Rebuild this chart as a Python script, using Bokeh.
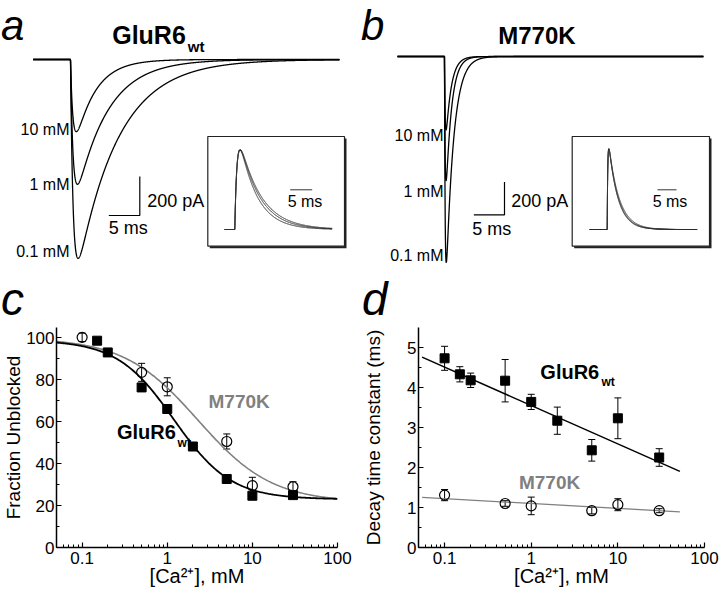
import numpy as np
from bokeh.plotting import figure
from bokeh.models import (Range1d, Label, FixedTicker, Whisker, TeeHead,
                          ColumnDataSource, CustomJSTickFormatter)
from bokeh.layouts import column, row
from bokeh.embed import file_html
from bokeh.resources import INLINE

# ------------------------------------------------------------------ data
conc_labels = ["10 mM", "1 mM", "0.1 mM"]
# panel a (GluR6wt) currents: peak amplitude (pA) and decay time constant (ms)
a_peak_pA = [370, 640, 1020]
a_tau_ms = [3.2, 5.0, 6.5]
a_inset_tau_ms = [3.9, 4.4, 4.8]
a_rise_ms = 0.45
# panel b (M770K)
b_peak_pA = [450, 760, 1260]
b_tau_ms = [0.85, 0.9, 1.2]
b_inset_tau_ms = [2.4, 2.5, 2.7]
b_rise_ms = 0.12
scale_ms = 5
scale_pA = 200

# panel c: fraction unblocked (%)
ca_glu = [0.15, 0.2, 0.5, 1, 2, 5, 10, 30]
frac_glu = [98.7, 93.1, 76.4, 66.1, 48.2, 32.7, 24.7, 25.0]
ca_m770 = [0.1, 0.5, 1, 5, 10, 30]
frac_m770 = [100.3, 83.6, 76.7, 50.6, 29.5, 29.0]
frac_m770_err = [2.0, 4.3, 4.3, 3.6, 4.0, 2.4]
hill_glu = [99, 23, 1.2, 1.3]       # top, bottom, IC50 (mM), n
hill_m770 = [100, 21.5, 2.3, 1.0]

# panel d: decay time constant (ms)
ca_tau_glu = [0.1, 0.15, 0.2, 0.5, 1, 2, 5, 10, 30]
tau_glu = [4.73, 4.33, 4.18, 4.17, 3.64, 3.17, 2.43, 3.23, 2.25]
tau_glu_err = [0.30, 0.19, 0.18, 0.53, 0.19, 0.34, 0.27, 0.51, 0.22]
ca_tau_m770 = [0.1, 0.5, 1, 5, 10, 30]
tau_m770 = [1.31, 1.10, 1.04, 0.92, 1.07, 0.92]
tau_m770_err = [0.14, 0.07, 0.22, 0.08, 0.15, 0.05]
lin_glu = [3.55, -0.96]     # tau = a + b*log10(Ca)
lin_m770 = [1.10, -0.122]
fit_span = [0.055, 52]

# ------------------------------------------------------------------ layout helpers
SPLIT = 325
H1 = SPLIT
H2 = 594 - SPLIT
FONT = "Liberation Sans"
GRAY = "#808080"
LETTER = 42


def trace(t, tr, td):
    tc = np.clip(t, 0, None)
    g = np.where(t > 0, (1 - np.exp(-tc / tr)) * np.exp(-tc / td), 0.0)
    return g / g.max()


def label(p, x, y, text, size, align="left", style="normal",
          color="black", angle=0.0, xr="default", yr="default"):
    p.add_layout(Label(x=x, y=y, text=text, text_font=FONT, text_font_size=f"{size}px",
                       text_font_style=style, text_align=align, text_baseline="middle",
                       text_color=color, angle=angle, x_range_name=xr, y_range_name=yr))


def blank_fig(xr, yr, h):
    p = figure(width=360, height=h, x_range=xr, y_range=yr, toolbar_location=None,
               output_backend="svg", x_axis_location=None, y_axis_location=None,
               min_border=0, outline_line_color=None)
    p.grid.visible = False
    return p


def trace_panel(letter, title, xo, onset, base, px_ms, px_pA, peaks, taus, rise,
                lab_right, lab_y, bar_corner, t_start, t_end, txt200, txt5,
                inset, lower_letter):
    fx = lambda r: (r - onset) / px_ms
    fy = lambda r: -(r - base) / px_pA
    p = blank_fig(Range1d(fx(xo), fx(xo + 360)), Range1d(fy(SPLIT), fy(0)), H1)
    t = np.arange(fx(t_start), fx(t_end), 0.02)
    for amp, td in zip(peaks, taus):
        p.line(t, -amp * trace(t, rise, td), line_color="black", line_width=1.3)
    for txt, yy in zip(conc_labels, lab_y):
        label(p, fx(lab_right), fy(yy), txt, 16, align="right")
    cx, cy = fx(bar_corner[0]), fy(bar_corner[1])
    p.line([cx - scale_ms, cx, cx], [cy, cy, cy + scale_pA], line_color="black", line_width=1.2)
    label(p, fx(txt200[0]), fy(txt200[1]), f"{scale_pA} pA", 18)
    label(p, fx(txt5[0]), fy(txt5[1]), f"{scale_ms} ms", 18)
    label(p, fx(xo + 0.5), fy(24.5), letter, LETTER, style="italic")
    label(p, fx(lower_letter[0]), fy(lower_letter[1] - 0.35 * 46), lower_letter[2], 46,
          style="italic")
    label(p, fx(title[0]), fy(title[1] - 0.35 * title[3]), title[2], title[3], style="bold")
    if title[4]:
        label(p, fx(title[0] + title[3] * 2.945 + 2), fy(title[1] + 8.4 - 0.35 * 15), "wt", 15,
              style="bold")

    # inset (own ms / normalised scales)
    ion, ipx, ibase, ipeak = inset["onset"], inset["px_ms"], inset["base"], inset["peak"]
    ix = lambda r: (r - ion) / ipx
    iy = lambda r: (ibase - r) / (ibase - ipeak)
    p.extra_x_ranges = {"ix": Range1d(ix(xo), ix(xo + 360))}
    p.extra_y_ranges = {"iy": Range1d(iy(SPLIT), iy(0))}
    L, T, R, B = inset["box"]
    p.quad(left=ix(L + 2), right=ix(R + 2), top=iy(T + 2), bottom=iy(B + 2),
           fill_color="#222222", line_color=None, x_range_name="ix", y_range_name="iy")
    p.quad(left=ix(L), right=ix(R), top=iy(T), bottom=iy(B), fill_color="white",
           line_color="#222222", line_width=1.2, x_range_name="ix", y_range_name="iy")
    ti = np.arange(ix(inset["start"]), ix(inset["end"]), 0.01)
    for td in inset["taus"]:
        p.line(ti, trace(ti, inset["rise"], td), line_color="#333333", line_width=1.0,
               x_range_name="ix", y_range_name="iy")
    bx_r, by_ = inset["bar"]
    p.line([ix(bx_r) - scale_ms, ix(bx_r)], [iy(by_), iy(by_)], line_color="#333333",
           line_width=1.0, x_range_name="ix", y_range_name="iy")
    label(p, ix(inset["txt"][0]), iy(inset["txt"][1]), f"{scale_ms} ms", 16, align="center",
          xr="ix", yr="iy")
    return p


pa = trace_panel("a", (111.7, 43.3, "GluR6", 25, True), 0, 70, 59, 6.2, 0.195,
                 a_peak_pA, a_tau_ms, a_rise_ms, 69, [129.3, 184, 250.7], (139.3, 215),
                 32.7, 339, (146.7, 200), (108.3, 227.3),
                 dict(onset=234.3, px_ms=4.4, base=229, peak=149.3, box=(207.3, 136, 344, 245.7),
                      start=224, end=331.7, taus=a_inset_tau_ms, rise=0.55,
                      bar=(311.7, 189.3), txt=(304.5, 201)),
                 (0.5, 314.5, "c"))
pb = trace_panel("b", (497.7, 43.3, "M770K", 24, False), 360, 444, 56, 6.13, 0.1635,
                 b_peak_pA, b_tau_ms, b_rise_ms, 443, [135, 191, 255], (504, 214.3),
                 397, 703, (510.7, 200), (471.7, 228),
                 dict(onset=606.7, px_ms=3.8, base=229, peak=148.3, box=(571.7, 136, 709, 245.7),
                      start=589, end=696.7, taus=b_inset_tau_ms, rise=0.15,
                      bar=(676, 189.3), txt=(669.5, 201)),
                 (361.5, 314.5, "d"))

# ------------------------------------------------------------------ c & d
log_minor = [m * 10.0 ** e for e in (-2, -1, 0, 1) for m in range(2, 10)]
TOPB = round(326.8 - SPLIT)


def data_fig(yr, yt, ymin, left, right, ylabel, ylab_standoff):
    p = figure(width=360, height=H2, x_axis_type="log", x_range=Range1d(0.05, 100), y_range=yr,
               toolbar_location=None, output_backend="svg", min_border_left=left,
               min_border_right=right, min_border_top=TOPB, min_border_bottom=47,
               outline_line_color=None, x_axis_label="[Ca²⁺], mM", y_axis_label=ylabel)
    p.grid.visible = False
    p.xaxis.ticker = FixedTicker(ticks=[0.1, 1, 10, 100], minor_ticks=log_minor)
    p.xaxis.formatter = CustomJSTickFormatter(code="return tick >= 1 ? tick.toFixed(0) : tick.toFixed(1);")
    p.yaxis.ticker = FixedTicker(ticks=yt, minor_ticks=ymin)
    for ax in p.axis:
        ax.axis_line_width = 1.5
        ax.major_tick_in = 5
        ax.major_tick_out = 0
        ax.minor_tick_in = 3
        ax.minor_tick_out = 0
        ax.major_tick_line_width = 1.2
        ax.major_label_text_font = FONT
        ax.major_label_text_font_size = "17px"
        ax.major_label_text_color = "black"
        ax.axis_label_text_font = FONT
        ax.axis_label_text_font_style = "normal"
        ax.axis_label_text_color = "black"
    p.xaxis.axis_label_text_font_size = "20px"
    p.yaxis.axis_label_text_font_size = "19px"
    p.xaxis.major_label_standoff = 4
    p.xaxis.axis_label_standoff = -2
    p.yaxis.major_label_standoff = 2
    p.yaxis.axis_label_standoff = ylab_standoff
    return p


# panel c
cxr = lambda r: 10 ** (np.log10(0.05) + (r - 51.2) / 86.7)
cyr = lambda r: (546.7 - r) / 2.094
pc = data_fig(Range1d(0, 105), [0, 20, 40, 60, 80, 100], [10, 30, 50, 70, 90], 51, 23,
              "Fraction Unblocked", -1)
xf = np.logspace(np.log10(0.05), 2, 300)
top, bot, ic, n = hill_m770
pc.line(xf, bot + (top - bot) / (1 + (xf / ic) ** n), line_color=GRAY, line_width=1.6)
top, bot, ic, n = hill_glu
pc.line(xf, bot + (top - bot) / (1 + (xf / ic) ** n), line_color="black", line_width=1.8)
pc.scatter(ca_glu, frac_glu, marker="square", size=9, color="black")
src_c = ColumnDataSource(dict(x=ca_m770, y=frac_m770,
                              up=[v + e for v, e in zip(frac_m770, frac_m770_err)],
                              lo=[v - e for v, e in zip(frac_m770, frac_m770_err)]))
pc.add_layout(Whisker(source=src_c, base="x", upper="up", lower="lo", dimension="height",
                      line_color="black", line_width=1,
                      upper_head=TeeHead(size=7, line_color="black"),
                      lower_head=TeeHead(size=7, line_color="black")))
pc.scatter("x", "y", source=src_c, marker="circle", size=10, fill_color=None,
           line_color="black", line_width=1.2)
label(pc, cxr(112.7), cyr(438.3 - 7), "GluR6", 20, style="bold")
label(pc, cxr(174.5), cyr(446.7 - 4.2), "wt", 12, style="bold")
label(pc, cxr(206), cyr(407.3 - 6.6), "M770K", 19, style="bold", color=GRAY)

# panel d
dxr = lambda r: 10 ** (np.log10(0.05) + (r - 415.4) / 87.4)
dyr = lambda r: (546.7 - r) / 40
pd = data_fig(Range1d(0, 5.5), [0, 1, 2, 3, 4, 5], [0.5, 1.5, 2.5, 3.5, 4.5], 55, 16,
              "Decay time constant (ms)", 20)
xl = np.array(fit_span)
pd.line(xl, lin_glu[0] + lin_glu[1] * np.log10(xl), line_color="black", line_width=1.5)
pd.line(xl, lin_m770[0] + lin_m770[1] * np.log10(xl), line_color=GRAY, line_width=1.3)
src_dg = ColumnDataSource(dict(x=ca_tau_glu, y=tau_glu,
                               up=[v + e for v, e in zip(tau_glu, tau_glu_err)],
                               lo=[v - e for v, e in zip(tau_glu, tau_glu_err)]))
src_dm = ColumnDataSource(dict(x=ca_tau_m770, y=tau_m770,
                               up=[v + e for v, e in zip(tau_m770, tau_m770_err)],
                               lo=[v - e for v, e in zip(tau_m770, tau_m770_err)]))
for s in (src_dg, src_dm):
    pd.add_layout(Whisker(source=s, base="x", upper="up", lower="lo", dimension="height",
                          line_color="black", line_width=1,
                          upper_head=TeeHead(size=7, line_color="black"),
                          lower_head=TeeHead(size=7, line_color="black")))
pd.scatter("x", "y", source=src_dg, marker="square", size=9, color="black")
pd.scatter("x", "y", source=src_dm, marker="circle", size=10, fill_color=None,
           line_color="black", line_width=1.2)
label(pd, dxr(538.3), dyr(378.3 - 7), "GluR6", 20, style="bold")
label(pd, dxr(600), dyr(385 - 4.2), "wt", 12, style="bold")
label(pd, dxr(516.7), dyr(488.3 - 6.6), "M770K", 19, style="bold", color=GRAY)

layout = column(row(pa, pb), row(pc, pd))
open("out.html", "w").write(file_html(layout, INLINE))
